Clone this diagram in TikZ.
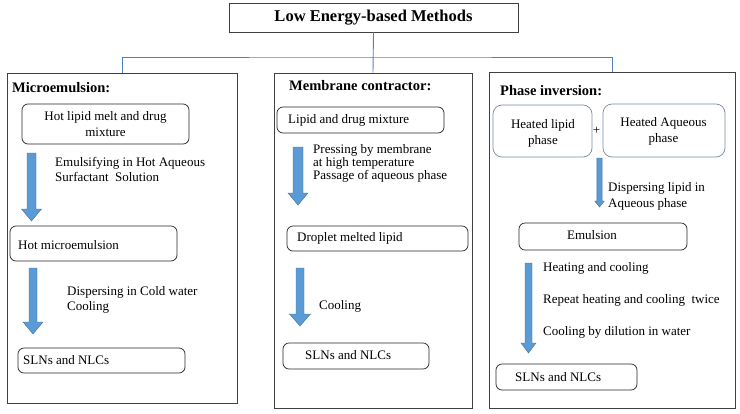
\documentclass[tikz,border=0pt]{standalone}
\usepackage{fontspec}
\setmainfont{Liberation Serif}
\definecolor{connblue}{RGB}{79,129,189}
\definecolor{arrowblue}{RGB}{91,155,213}
\definecolor{arrowedge}{RGB}{65,113,156}
\definecolor{framegray}{RGB}{64,64,64}
\definecolor{softframe}{RGB}{120,138,165}
\newcommand\blockarr[6]{% x, ytop, ybot, shaft half width, head half width, head length
  \filldraw[fill=arrowblue,draw=arrowedge,line width=0.4pt] ({#1-#4},#2) -- ({#1+#4},#2) -- ({#1+#4},{#3-#6}) -- ({#1+#5},{#3-#6})
    -- (#1,#3) -- ({#1-#5},{#3-#6}) -- ({#1-#4},{#3-#6}) -- cycle;}
\begin{document}
\begin{tikzpicture}[x=1pt,y=-1pt,
  outer/.style={draw=framegray,line width=0.9pt,inner sep=0pt},
  rbox/.style={draw=black!85,line width=0.7pt,rounded corners=6pt,inner sep=0pt},
  sbox/.style={draw=softframe,line width=0.7pt,rounded corners=9pt,inner sep=0pt},
  conn/.style={draw=connblue,line width=0.9pt},
  head/.style={font=\fontsize{14.5}{17}\selectfont\bfseries,anchor=west,inner sep=0pt},
  txt/.style={font=\fontsize{13}{15}\selectfont,anchor=west,inner sep=0pt,align=left},
  ctxt/.style={font=\fontsize{13}{16}\selectfont,inner sep=0pt,align=center}]
\useasboundingbox (0,0) rectangle (740,413);
% title and outer frames
\node[outer,minimum width=289pt,minimum height=29pt,font=\fontsize{16.5}{19}\selectfont\bfseries] (title) at (373.5,17.5) {Low Energy-based Methods};
\node[outer,minimum width=230pt,minimum height=330pt] (box1) at (122,238) {};
\node[outer,minimum width=198pt,minimum height=335pt] (box2) at (373,240.5) {};
\node[outer,minimum width=246pt,minimum height=336pt] (box3) at (612,240) {};
% connectors
\coordinate (bus) at (373,57);
\draw[conn] (title.south) -- (box2.north);
\draw[conn] (box1.north) |- (bus) -| (box3.north);
% headings
\node[head] (h1) at (12,88) {Microemulsion:};
\node[head] (h2) at (289,86) {Membrane contractor:};
\node[head] (h3) at (500,91) {Phase inversion:};
% Microemulsion column
\node[rbox,minimum width=167pt,minimum height=40pt] (m1) at (105.5,124) {};
\node[ctxt] (m1t) at (m1.center) {Hot lipid melt and drug\\mixture};
\blockarr{31.5}{153}{221}{4.5}{10}{12}
\node[txt] (m1a) at (55,169.5) {Emulsifying in Hot Aqueous\\Surfactant\ \ Solution};
\node[rbox,minimum width=167pt,minimum height=35pt] (m2) at (93.5,243.5) {};
\node[txt] (m2t) at (18,245) {Hot microemulsion};
\blockarr{33}{268}{334}{4}{10}{12}
\node[txt] (m2a) at (67,299.5) {Dispersing in Cold water\\Cooling};
\node[rbox,minimum width=167pt,minimum height=25pt] (m3) at (101.5,360.5) {};
\node[txt] (m3t) at (23,360) {SLNs and NLCs};
% Membrane contractor column
\node[rbox,minimum width=167pt,minimum height=26pt] (c1) at (360.5,120) {};
\node[txt] (c1t) at (288,120) {Lipid and drug mixture};
\blockarr{298}{147}{205}{5}{10}{12}
\node[txt,font=\fontsize{13}{11.5}\selectfont] (c1a) at (313,163) {Pressing by membrane\\at high temperature\\Passage of aqueous phase};
\node[rbox,minimum width=181pt,minimum height=25pt] (c2) at (377.5,238.5) {};
\node[txt] (c2t) at (297,238) {Droplet melted lipid};
\blockarr{300}{268}{326}{4}{10.5}{12}
\node[txt] (c2a) at (319,306) {Cooling};
\node[rbox,minimum width=146pt,minimum height=26pt] (c3) at (356,356) {};
\node[txt] (c3t) at (305,355) {SLNs and NLCs};
% Phase inversion column
\node[sbox,minimum width=99pt,minimum height=52pt] (p1) at (542.5,131) {};
\node[ctxt] (p1t) at (543,133) {Heated lipid\\phase};
\node[font=\fontsize{13}{15}\selectfont,inner sep=0pt] (plus) at (596.5,131) {+};
\node[sbox,minimum width=122pt,minimum height=53pt] (p2) at (664,130.5) {};
\node[ctxt] (p2t) at (663.5,131) {Heated Aqueous\\phase};
\blockarr{599.5}{158}{207}{2.6}{4.8}{6}
\node[txt,font=\fontsize{13}{16}\selectfont] (p2a) at (608,196) {Dispersing lipid in\\Aqueous phase};
\node[rbox,minimum width=168pt,minimum height=27pt] (p3) at (603,236.5) {};
\node[ctxt] (p3t) at (592,235) {Emulsion};
\blockarr{528.5}{263}{353}{3.5}{7.5}{10}
\node[txt] (p3a) at (543,268) {Heating and cooling};
\node[txt] (p3b) at (543,300) {Repeat heating and cooling\ \ twice};
\node[txt] (p3c) at (543,332) {Cooling by dilution in water};
\node[rbox,minimum width=141pt,minimum height=26pt] (p4) at (566.5,377) {};
\node[txt] (p4t) at (515,377) {SLNs and NLCs};
\end{tikzpicture}
\end{document}
